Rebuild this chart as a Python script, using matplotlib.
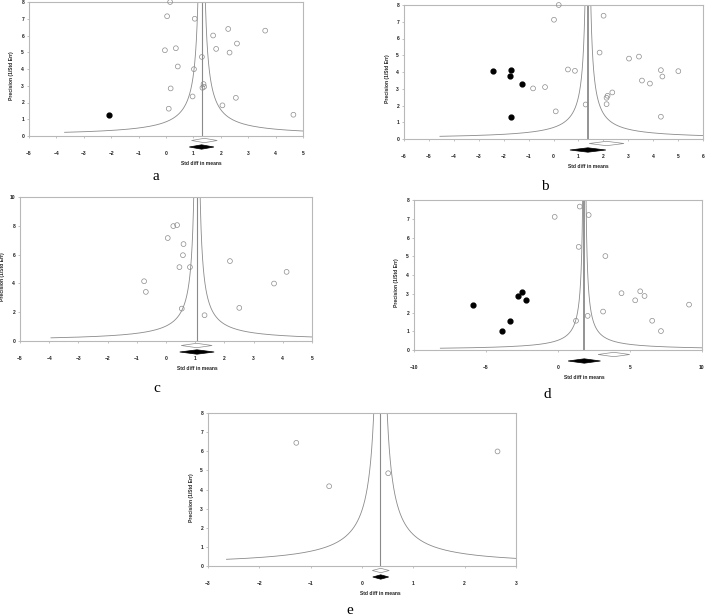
import numpy as np
import matplotlib.pyplot as plt
import matplotlib.transforms as mtransforms
from matplotlib.patches import Polygon

# panel a
a_x = [0.15, 0.04, 1.05, 1.72, 2.27, 3.62, 2.59, 1.83, 2.32, -0.04, 0.36, 1.31,
       0.43, 1.02, 1.37, 1.33, 1.39, 0.17, 0.97, 2.55, 2.06, 0.10, 4.65]
a_y = [8.0, 7.15, 7.0, 6.0, 6.39, 6.29, 5.52, 5.2, 4.98, 5.12, 5.24, 4.72,
       4.15, 3.99, 3.10, 2.88, 2.94, 2.84, 2.36, 2.28, 1.83, 1.63, 1.27]
a_fx = [-2.08]
a_fy = [1.25]

# panel b
b_x = [0.21, 0.02, 2.01, 1.85, 3.03, 3.43, 0.58, 0.86, 4.31, 4.37, 5.01, 3.55,
       3.87, -0.82, -0.34, 2.36, 2.17, 2.13, 2.13, 1.29, 0.09, 4.31]
b_y = [8.0, 7.12, 7.36, 5.16, 4.8, 4.92, 4.15, 4.07, 4.11, 3.73, 4.05, 3.49,
       3.31, 3.02, 3.10, 2.78, 2.58, 2.46, 2.08, 2.06, 1.65, 1.33]
b_fx = [-2.41, -1.69, -1.75, -1.26, -1.69]
b_fy = [4.05, 4.11, 3.75, 3.31, 1.33]

# panel c
c_x = [0.25, 0.38, 0.06, 0.60, 0.58, 0.46, 0.82, 2.19, 4.13, -0.75, 3.70,
       -0.69, 0.54, 2.51, 1.32]
c_y = [7.98, 8.05, 7.15, 6.73, 5.96, 5.13, 5.13, 5.55, 4.80, 4.15, 3.99,
       3.41, 2.25, 2.30, 1.79]
c_fx = []
c_fy = []

# panel d
d_x = [1.51, -0.23, 2.13, 1.44, 3.29, 4.41, 5.71, 6.01, 5.36, 9.10, 3.13,
       2.06, 1.25, 6.54, 7.15]
d_y = [7.65, 7.10, 7.20, 5.50, 5.01, 3.03, 3.13, 2.88, 2.65, 2.42, 2.05,
       1.82, 1.56, 1.56, 1.01]
d_fx = [-5.92, -2.51, -2.78, -2.23, -3.34, -3.92]
d_fy = [2.42, 3.12, 2.88, 2.65, 1.56, 1.03]

# panel e
e_x = [-1.28, -0.64, 0.51, 2.64]
e_y = [6.44, 4.17, 4.85, 5.99]
e_fx = []
e_fy = []

# pooled effect, funnel constant, lowest precision of funnel
centers = {'a': 1.30, 'b': 1.38, 'c': 1.06, 'd': 1.83, 'e': 0.36}
funnel_k = {'a': 1.1, 'b': 0.95, 'c': 1.1, 'd': 0.95, 'e': 1.05}
funnel_low = {'a': 0.22, 'b': 0.16, 'c': 0.22, 'd': 0.095, 'e': 0.35}
# diamonds (observed = open, adjusted = filled): low, high
open_ci = {'a': (0.93, 1.87), 'b': (1.43, 2.83), 'c': (0.52, 1.58),
           'd': (2.78, 4.98), 'e': (0.20, 0.53)}
fill_ci = {'a': (0.85, 1.75), 'b': (0.66, 2.10), 'c': (0.47, 1.65),
           'd': (0.70, 2.95), 'e': (0.21, 0.52)}

xlims = {'a': (-5, 5), 'b': (-6, 6), 'c': (-5, 5), 'd': (-10, 10), 'e': (-3, 3)}
xstep = {'a': 1, 'b': 1, 'c': 1, 'd': 5, 'e': 1}
ylims = {'a': 8, 'b': 8, 'c': 10, 'd': 8, 'e': 8}
ystep = {'a': 1, 'b': 1, 'c': 2, 'd': 1, 'e': 1}

W, H = 705, 616
# left, top, right, bottom in pixels
boxes = {'a': (29, 2, 303, 136), 'b': (404, 5, 703, 139), 'c': (20, 197, 312, 341),
         'd': (414, 200, 702, 350), 'e': (208, 413, 516, 566)}
letters = {'a': (156, 177), 'b': (545, 186), 'c': (157, 389), 'd': (547, 395),
           'e': (350, 610)}
pts = {'a': (a_x, a_y, a_fx, a_fy), 'b': (b_x, b_y, b_fx, b_fy),
       'c': (c_x, c_y, c_fx, c_fy), 'd': (d_x, d_y, d_fx, d_fy),
       'e': (e_x, e_y, e_fx, e_fy)}

plt.rcParams['font.family'] = ['Liberation Sans', 'DejaVu Sans']
fig = plt.figure(figsize=(W / 100, H / 100), dpi=100)

for k in ['a', 'b', 'c', 'd', 'e']:
    l, t, r, b = boxes[k]
    ax = fig.add_axes([l / W, 1 - b / H, (r - l) / W, (b - t) / H])
    hpx = b - t
    wpx = r - l
    x0, x1 = xlims[k]
    ax.set_xlim(x0, x1)
    ax.set_ylim(0, ylims[k])
    ax.set_xticks(np.arange(x0, x1 + 0.01, xstep[k]))
    ax.set_yticks(np.arange(0, ylims[k] + 0.01, ystep[k]))
    for s in ax.spines.values():
        s.set_color('#b8b8b8')
        s.set_linewidth(0.8)
    ax.tick_params(axis='both', length=1.5, width=0.5, color='#aaaaaa',
                   labelsize=3.6, labelcolor='#222222')
    ax.tick_params(axis='x', pad=9.5)
    ax.tick_params(axis='y', pad=2)
    for lab in ax.get_xticklabels() + ax.get_yticklabels():
        lab.set_fontweight('bold')

    c = centers[k]
    prec = np.linspace(funnel_low[k], ylims[k] * 1.05, 600)
    ax.plot(c - funnel_k[k] / prec, prec, color='#8a8a8a', lw=0.6)
    ax.plot(c + funnel_k[k] / prec, prec, color='#8a8a8a', lw=0.6)
    ax.axvline(c, color='#8a8a8a', lw=1.3 if k in ('b', 'd') else 0.8)

    ox, oy, fx, fy = pts[k]
    ax.scatter(ox, oy, s=12, facecolors='none', edgecolors='#8c8c8c',
               linewidths=0.5, clip_on=False, zorder=3)
    if fx:
        ax.scatter(fx, fy, s=12, color='black', clip_on=False, zorder=3)

    trans = mtransforms.blended_transform_factory(ax.transData, ax.transAxes)
    hh = 2.2 / hpx
    for ci, dy, fc, ec in [(open_ci[k], 4.5, 'white', '#8c8c8c'),
                           (fill_ci[k], 11.0, 'black', 'black')]:
        lo, hi = ci
        mid = (lo + hi) / 2
        yc = -dy / hpx
        poly = Polygon([(lo, yc), (mid, yc + hh), (hi, yc), (mid, yc - hh)],
                       closed=True, transform=trans, facecolor=fc, edgecolor=ec,
                       linewidth=0.5, clip_on=False)
        ax.add_patch(poly)

    ax.text(c, -27.5 / hpx, 'Std diff in means', transform=trans, ha='center',
            va='center', fontsize=3.6, fontweight='bold', color='#222222')
    ax.text(-17 / wpx, 0.45, 'Precision (1/Std Err)', transform=ax.transAxes,
            rotation=90, ha='center', va='center', fontsize=3.6,
            fontweight='bold', color='#222222')

    lx, ly = letters[k]
    fig.text(lx / W, 1 - ly / H, k, ha='center', va='center',
             family='Liberation Serif', fontsize=11)

fig.savefig('out.png', dpi=100)
